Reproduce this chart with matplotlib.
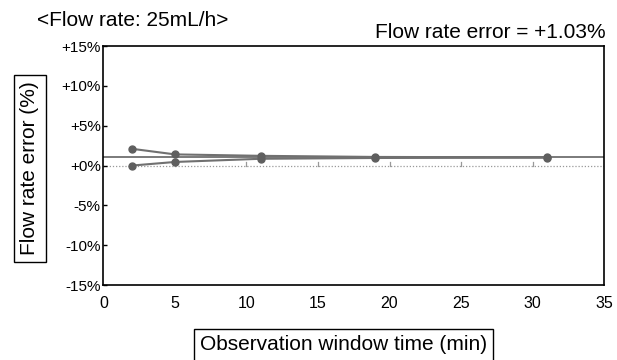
import matplotlib
matplotlib.use("Agg")
import matplotlib.pyplot as plt

plt.rcParams['font.family'] = ['Liberation Sans', 'DejaVu Sans']

time_min = [2, 5, 11, 19, 31]
upper_err = [2.1, 1.4, 1.22, 1.08, 1.03]
lower_err = [0.0, 0.45, 0.85, 0.95, 0.99]
mean_err = 1.03
yticks = [15, 10, 5, 0, -5, -10, -15]
ytick_labels = ['+15%', '+10%', '+5%', '+0%', '-5%', '-10%', '-15%']
xticks = [0, 5, 10, 15, 20, 25, 30, 35]

fig = plt.figure(figsize=(6.17, 3.6), dpi=100)
ax = fig.add_axes([0.1677, 0.2083, 0.8113, 0.6637])

ax.set_xlim(0, 35)
ax.set_ylim(-15, 15)

# zero reference (dotted) with small ticks
ax.axhline(0, color='#999999', lw=0.9, ls=(0, (1, 1.5)), zorder=1)
for xt in xticks[1:-1]:
    ax.plot([xt, xt], [0, 0.45], color='#999999', lw=0.9, zorder=1)

# mean error line
ax.axhline(mean_err, color='#707070', lw=1.3, zorder=2)

ax.plot(time_min, upper_err, color='#707070', lw=1.5, marker='o', ms=5,
        mfc='#5f5f5f', mec='#5f5f5f', zorder=3)
ax.plot(time_min, lower_err, color='#707070', lw=1.5, marker='o', ms=5,
        mfc='#5f5f5f', mec='#5f5f5f', zorder=3)

ax.set_yticks(yticks)
ax.set_yticklabels(ytick_labels, fontsize=11)
ax.set_xticks(xticks)
ax.set_xticklabels([str(x) for x in xticks], fontsize=11.5)
ax.tick_params(axis='y', direction='in', length=3, width=1, pad=2)
ax.tick_params(axis='x', length=0, pad=8)
for s in ax.spines.values():
    s.set_linewidth(1.2)
    s.set_color('black')

fig.text(0.06, 0.944, '<Flow rate: 25mL/h>', fontsize=15, ha='left', va='center')
fig.text(0.982, 0.91, 'Flow rate error = +1.03%', fontsize=15, ha='right', va='center')

bbox = dict(boxstyle='square,pad=0.3', fc='white', ec='black', lw=1)
fig.text(0.0486, 0.532, 'Flow rate error (%)', fontsize=15, rotation=90,
         ha='center', va='center', bbox=bbox)
fig.text(0.557, 0.042, 'Observation window time (min)', fontsize=15,
         ha='center', va='center', bbox=bbox)

fig.savefig('out.png', dpi=100)
